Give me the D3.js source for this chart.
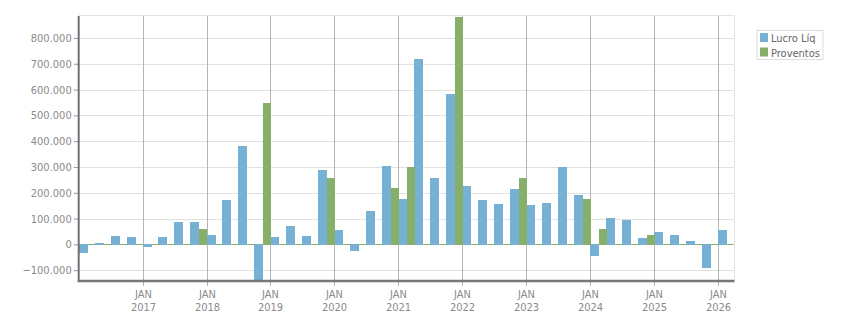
<!DOCTYPE html>
<html>
<head>
<meta charset="utf-8">
<script src="https://cdn.jsdelivr.net/npm/d3@7"></script>
<style>
  html, body { margin: 0; padding: 0; background: #fff; }
  svg { display: block; font-family: "DejaVu Sans Condensed", "DejaVu Sans", "Liberation Sans", sans-serif; }
</style>
</head>
<body>
<svg id="chart" width="851" height="313"></svg>
<script>
const quarters = [
  "2016-01-01","2016-04-01","2016-07-01","2016-10-01",
  "2017-01-01","2017-04-01","2017-07-01","2017-10-01",
  "2018-01-01","2018-04-01","2018-07-01","2018-10-01",
  "2019-01-01","2019-04-01","2019-07-01","2019-10-01",
  "2020-01-01","2020-04-01","2020-07-01","2020-10-01",
  "2021-01-01","2021-04-01","2021-07-01","2021-10-01",
  "2022-01-01","2022-04-01","2022-07-01","2022-10-01",
  "2023-01-01","2023-04-01","2023-07-01","2023-10-01",
  "2024-01-01","2024-04-01","2024-07-01","2024-10-01",
  "2025-01-01","2025-04-01","2025-07-01","2025-10-01",
  "2026-01-01"
];
const lucroLiq = [
  -29000, 6000, 32000, 28000,
  -7000, 28000, 87000, 87000,
  36000, 172000, 381000, -142000,
  28000, 71000, 32000, 288000,
  55000, -22000, 129000, 304000,
  176000, 720000, 257000, 584000,
  226000, 172000, 156000, 215000,
  153000, 160000, 300000, 191000,
  -41000, 102000, 94000, 24000,
  48000, 36000, 13000, -88000,
  55000
];
const proventos = [
  0, 0, 0, 0,
  3000, 0, 0, 59000,
  0, 0, 0, 549000,
  0, 0, 0, 257000,
  0, 0, 0, 219000,
  300000, 0, 0, 880000,
  0, 0, 0, 257000,
  0, 0, 0, 176000,
  59000, 0, 0, 36000,
  3000, 0, 0, 0,
  0
];
const seriesNames = ["Lucro Líq", "Proventos"];
const yTicks = [-100000, 0, 100000, 200000, 300000, 400000, 500000, 600000, 700000, 800000];
const yearTicks = ["2017","2018","2019","2020","2021","2022","2023","2024","2025","2026"];
const yDomain = [-142000, 885000];
const xDomain = ["2016-01-01", "2026-04-01"];

const colors = { blue: "#76b0d3", green: "#87af6a" };

const parse = d3.timeParse("%Y-%m-%d");
const data = quarters.map((q, i) => ({ date: parse(q), lucro: lucroLiq[i], prov: proventos[i] }));

const pLeft = 78.7, pRight = 733.5, pTop = 16, pBottom = 281;

const x = d3.scaleTime().domain(xDomain.map(parse)).range([pLeft, pRight]);
const y = d3.scaleLinear().domain(yDomain).range([pBottom, pTop]);

const locale = d3.formatLocale({ decimal: ",", thousands: ".", grouping: [3], currency: ["", ""] });
const fmt = locale.format(",d");

const svg = d3.select("#chart");

// horizontal gridlines
svg.append("g").selectAll("line").data(yTicks).join("line")
  .attr("x1", pLeft).attr("x2", pRight)
  .attr("y1", d => Math.round(y(d)) + 0.5).attr("y2", d => Math.round(y(d)) + 0.5)
  .attr("stroke", "#e1e1e1").attr("stroke-width", 1);

// top and right borders
svg.append("line").attr("x1", pLeft).attr("x2", pRight).attr("y1", pTop - 0.5).attr("y2", pTop - 0.5)
  .attr("stroke", "#e1e1e1");
svg.append("line").attr("x1", Math.round(pRight) + 0.5).attr("x2", Math.round(pRight) + 0.5)
  .attr("y1", pTop - 1).attr("y2", pBottom).attr("stroke", "#e1e1e1");

// vertical year gridlines
const yearDates = yearTicks.map(yr => parse(yr + "-01-01"));
svg.append("g").selectAll("line").data(yearDates).join("line")
  .attr("x1", d => Math.round(x(d)) + 0.5).attr("x2", d => Math.round(x(d)) + 0.5)
  .attr("y1", pTop).attr("y2", pBottom + 5)
  .attr("stroke", "#b5b5b5").attr("stroke-width", 1);

// green zero line
svg.append("line").attr("x1", pLeft).attr("x2", pRight)
  .attr("y1", Math.round(y(0)) + 0.5).attr("y2", Math.round(y(0)) + 0.5)
  .attr("stroke", colors.green).attr("stroke-width", 1);

const blueW = 9, greenW = 8;

// blue bars
svg.append("g").selectAll("rect").data(data.filter(d => d.lucro !== 0)).join("rect")
  .attr("x", d => Math.round(x(d.date)))
  .attr("width", blueW)
  .attr("y", d => Math.round(y(Math.max(0, d.lucro))))
  .attr("height", d => Math.abs(Math.round(y(0)) - Math.round(y(d.lucro))) + 1)
  .attr("fill", colors.blue)
  .attr("shape-rendering", "crispEdges");

// green bars
svg.append("g").selectAll("rect").data(data.filter(d => d.prov !== 0)).join("rect")
  .attr("x", d => Math.round(x(d.date)) + blueW)
  .attr("width", greenW)
  .attr("y", d => Math.round(y(Math.max(0, d.prov))))
  .attr("height", d => Math.abs(Math.round(y(0)) - Math.round(y(d.prov))) + 1)
  .attr("fill", colors.green)
  .attr("shape-rendering", "crispEdges");

// left axis
const yAxis = d3.axisLeft(y).tickValues(yTicks).tickFormat(d => d === 0 ? "0" : fmt(d))
  .tickSize(5).tickPadding(2);
const ya = svg.append("g").attr("transform", `translate(${pLeft},0)`).call(yAxis);
ya.select(".domain").remove();
ya.selectAll(".tick line").attr("stroke", "#999");
ya.selectAll(".tick text").attr("fill", "#8a8a8a").attr("font-size", 11)
  .attr("font-family", "\"DejaVu Sans Condensed\", \"DejaVu Sans\", sans-serif");
svg.append("line").attr("x1", pLeft).attr("x2", pLeft).attr("y1", pTop).attr("y2", pBottom + 1)
  .attr("stroke", "#707070").attr("stroke-width", 2);

// bottom axis
svg.append("line").attr("x1", pLeft - 1).attr("x2", pRight + 1).attr("y1", pBottom).attr("y2", pBottom)
  .attr("stroke", "#777").attr("stroke-width", 2.5);

// x labels
const xl = svg.append("g").selectAll("g").data(yearDates).join("g")
  .attr("transform", d => `translate(${Math.round(x(d)) + 0.5},0)`);
xl.append("text").attr("y", 298).attr("text-anchor", "middle").attr("font-size", 11)
  .attr("fill", "#8a8a8a").text("JAN");
xl.append("text").attr("y", 311).attr("text-anchor", "middle").attr("font-size", 11)
  .attr("fill", "#8a8a8a").text((d, i) => yearTicks[i]);

// legend
const lg = svg.append("g");
lg.append("rect").attr("x", 757).attr("y", 30.5).attr("width", 66).attr("height", 29)
  .attr("fill", "#fff").attr("stroke", "#dcdcdc").attr("stroke-width", 1);
const legendColors = [colors.blue, colors.green];
seriesNames.forEach((name, i) => {
  lg.append("rect").attr("x", 760).attr("y", 33 + i * 14.5).attr("width", 8).attr("height", 9)
    .attr("fill", legendColors[i]);
  lg.append("text").attr("x", 771).attr("y", 42 + i * 14.5).attr("font-size", 11)
    .attr("fill", "#666").text(name);
});
</script>
</body>
</html>
